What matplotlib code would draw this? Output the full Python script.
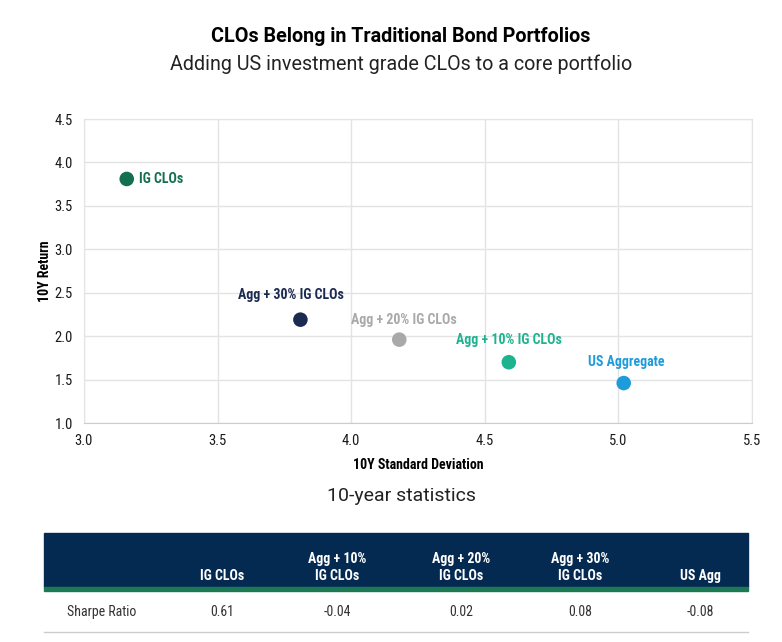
import matplotlib
matplotlib.use("Agg")
import matplotlib.pyplot as plt
from matplotlib.patches import Rectangle
from matplotlib import font_manager as fm

# data
names = ["IG CLOs", "Agg + 30% IG CLOs", "Agg + 20% IG CLOs", "Agg + 10% IG CLOs", "US Aggregate"]
std_dev = [3.16, 3.81, 4.18, 4.59, 5.02]
returns = [3.81, 2.19, 1.96, 1.70, 1.46]
colors = ["#13704F", "#1B2A50", "#A9A9A9", "#1DB391", "#1E9BDB"]

table_cols = ["IG CLOs", "Agg + 10%\nIG CLOs", "Agg + 20%\nIG CLOs", "Agg + 30%\nIG CLOs", "US Agg"]
sharpe = ["0.61", "-0.04", "0.02", "0.08", "-0.08"]

available = {f.name for f in fm.fontManager.ttflist}
cond = "Roboto Condensed" if "Roboto Condensed" in available else "Roboto"
plt.rcParams["font.family"] = [cond, "DejaVu Sans"]

fig = plt.figure(figsize=(7.82, 6.42), dpi=100)

fig.text(0.513, 0.943, "CLOs Belong in Traditional Bond Portfolios", ha="center", va="center",
         fontsize=14.2, fontweight="bold", family=["Roboto", "DejaVu Sans"])
fig.text(0.513, 0.900, "Adding US investment grade CLOs to a core portfolio", ha="center", va="center",
         fontsize=14.2, family=["Roboto", "DejaVu Sans"], color="#222222")

ax = fig.add_axes([0.1074, 0.3411, 0.8542, 0.4735])
ax.scatter(std_dev, returns, s=110, c=colors, zorder=3, linewidths=0)

# label offsets in points: (dx, dy, ha)
label_pos = [(9, 0, "left"), (-7, 18, "center"), (-35, 14, "left"), (0, 16, "center"), (2, 15, "center")]
for n, x, y, c, (dx, dy, ha) in zip(names, std_dev, returns, colors, label_pos):
    ax.annotate(n, (x, y), xytext=(dx, dy), textcoords="offset points", ha=ha, va="center",
                fontsize=10, fontweight="bold", color=c)

ax.set_xlim(3.0, 5.5)
ax.set_ylim(1.0, 4.5)
ax.set_xticks([3.0, 3.5, 4.0, 4.5, 5.0, 5.5])
ax.set_yticks([1.0, 1.5, 2.0, 2.5, 3.0, 3.5, 4.0, 4.5])
ax.xaxis.set_major_formatter(matplotlib.ticker.FormatStrFormatter("%.1f"))
ax.yaxis.set_major_formatter(matplotlib.ticker.FormatStrFormatter("%.1f"))
ax.grid(True, color="#E3E3E3", linewidth=1)
ax.set_axisbelow(True)
for s in ax.spines.values():
    s.set_color("#E3E3E3")
ax.spines["bottom"].set_color("#CCCCCC")
ax.tick_params(length=0, labelsize=10.5, colors="#1A1A1A", pad=8)
ax.set_xlabel("10Y Standard Deviation", fontsize=10, fontweight="bold", labelpad=7)
ax.set_ylabel("10Y Return", fontsize=10, fontweight="bold", labelpad=2)

fig.text(0.513, 0.227, "10-year statistics", ha="center", va="center", fontsize=14,
         family=["Roboto", "DejaVu Sans"], color="#222222")

# table
tx = fig.add_axes([0, 0, 1, 1])
tx.set_xlim(0, 782)
tx.set_ylim(642, 0)
tx.axis("off")
tx.add_patch(Rectangle((44, 533), 704, 54, color="#052A52"))
tx.add_patch(Rectangle((44, 587), 704, 4, color="#1B7A53"))
tx.plot([44, 748], [632, 632], color="#CCCCCC", lw=1)
col_x = [222, 337, 461, 580, 700]
for cx, h, v in zip(col_x, table_cols, sharpe):
    tx.text(cx, 583, h, ha="center", va="bottom", color="white", fontsize=10, fontweight="bold",
            linespacing=1.3)
    tx.text(cx, 612, v, ha="center", va="center", color="#333333", fontsize=10)
tx.text(67, 612, "Sharpe Ratio", ha="left", va="center", color="#333333", fontsize=10)

fig.savefig("out.png", dpi=100)
